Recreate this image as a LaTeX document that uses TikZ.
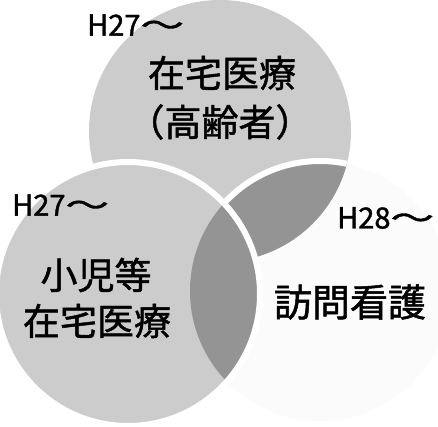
\documentclass[tikz,border=0pt]{standalone}
\usepackage{fontspec}
\newfontfamily\jp[FakeBold=1.3]{Noto Sans CJK JP}
\definecolor{lightfill}{gray}{0.80}
\definecolor{darkfill}{gray}{0.58}
\definecolor{dotfill}{gray}{0.985}
\begin{document}
\begin{tikzpicture}[x=1pt,y=-1pt,
  lbl/.style={inner sep=0pt,font=\jp\fontsize{37}{40}\selectfont},
  yr/.style={inner sep=0pt,anchor=west,font=\jp\fontsize{29}{32}\selectfont},
  gap/.style={draw=white,line width=6pt}]
\useasboundingbox (0,0) rectangle (438,427);
\clip (0,0) rectangle (438,427);
\def\T{(220,131) circle[radius=131]}
\def\R{(320,291) circle[radius=130]}
\def\L{(128,294) circle[radius=132]}
% right circle (very light)
\fill[dotfill] \R;
% top circle
\fill[lightfill] \T;
\begin{scope}
  \clip \T;
  \fill[darkfill] \R;
  \draw[gap] \R;
\end{scope}
% left circle
\fill[lightfill] \L;
\begin{scope}
  \clip \L;
  \fill[darkfill] \R;
\end{scope}
\draw[gap] \L;
% labels
\node[yr] (h27a) at (87,25) {H27\scalebox{1.5}[1]{～}};
\node[lbl] (t1) at (222,73) {在宅医療};
\node[lbl] (t2) at (220,122) {（高齢者）};
\node[yr] (h27b) at (12,205) {H27\scalebox{1.5}[1]{～}};
\node[lbl] (l1) at (96,275) {小児等};
\node[lbl] (l2) at (97,321) {在宅医療};
\node[yr] (h28) at (337,218) {H28\scalebox{1.5}[1]{～}};
\node[lbl,font=\jp\fontsize{38}{40}\selectfont] (r1) at (350,302) {訪問看護};
\end{tikzpicture}
\end{document}
